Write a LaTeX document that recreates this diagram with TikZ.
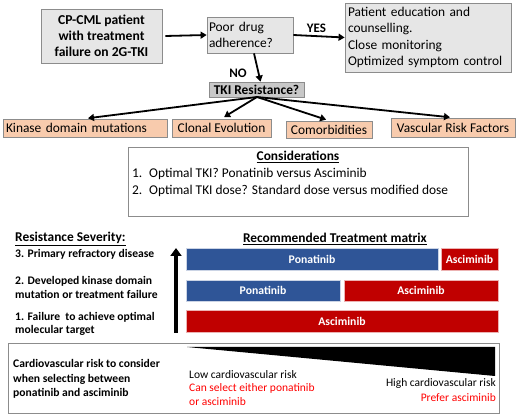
\documentclass[tikz,border=0pt]{standalone}
\usepackage{fontspec}
\setmainfont{Carlito}
\usetikzlibrary{arrows.meta}
\definecolor{boxgray}{HTML}{E6E6E6}
\definecolor{tkigray}{HTML}{C8C8C8}
\definecolor{edgegray}{HTML}{8C8C8C}
\definecolor{peach}{HTML}{F8CBAD}
\definecolor{barblue}{HTML}{2F5597}
\definecolor{barred}{HTML}{C00000}
\definecolor{txtred}{HTML}{FF0000}
\begin{document}
\begin{tikzpicture}[x=1pt,y=-1pt,
  every node/.style={font=\fontsize{13.4}{16.5}\selectfont, inner sep=0pt},
  graybox/.style={draw=edgegray, fill=boxgray, line width=0.8pt},
  tkibox/.style={draw=edgegray, fill=tkigray, line width=0.8pt, font=\fontsize{13.4}{16.5}\selectfont\bfseries},
  peachbox/.style={draw=edgegray, fill=peach, line width=0.8pt},
  plainbox/.style={draw=edgegray, fill=white, line width=0.8pt},
  flow/.style={line width=1.8pt, -{Triangle[length=6pt,width=7pt]}},
  bar/.style={draw=white!75!barblue, line width=0.6pt, text=white, font=\fontsize{11.7}{14}\selectfont\bfseries},
  bluebar/.style={bar, fill=barblue},
  redbar/.style={bar, fill=barred, draw=white!70!barred},
  sevlbl/.style={font=\fontsize{11.6}{13.6}\selectfont\bfseries, align=left},
  cvlbl/.style={font=\fontsize{11.6}{14.5}\selectfont\bfseries, align=left},
  small/.style={font=\fontsize{11.5}{14}\selectfont},
  yesno/.style={font=\fontsize{13}{14}\selectfont\bfseries}
]
\useasboundingbox (0,0) rectangle (520,414);

% top flow
\node[graybox, minimum width=121pt, minimum height=54pt, align=center, font=\fontsize{13.6}{16}\selectfont\bfseries] (pat) at (101.5,36)
  {CP-CML patient\\with treatment\\failure on 2G-TKI};
\node[graybox, minimum width=86pt, minimum height=36pt, text width=82pt, inner xsep=2pt, align=left] (adh) at (250,35)
  {Poor drug\\adherence?};
\node[graybox, minimum width=166pt, minimum height=69pt, text width=160pt, inner xsep=3pt, align=left] (edu) at (428,37.5)
  {Patient education and\\counselling.\\Close monitoring\\Optimized symptom control};
\node[tkibox, minimum width=95pt, minimum height=15pt] (tki) at (256.5,89.5) {TKI Resistance?};

\draw[flow] (pat.east) ++(3,0) coordinate (p1) (p1) -- (adh.west);
\draw[flow] (adh.east) -- node[above=3pt, pos=0.45, yesno] {YES} (edu.west);
\draw[flow] ([xshift=4pt]adh.south) -- node[left=11pt, pos=0.72, yesno] {NO} ([xshift=4pt]tki.north);

% resistance causes
\node[peachbox, minimum width=164pt, minimum height=18pt, text width=158pt, align=left] (kdm) at (85,128) {Kinase domain mutations};
\node[peachbox, minimum width=99pt, minimum height=18pt] (clo) at (221.5,128) {Clonal Evolution};
\node[peachbox, minimum width=86pt, minimum height=17pt] (com) at (329,129.5) {Comorbidities};
\node[peachbox, minimum width=124pt, minimum height=19pt] (vas) at (453,127.5) {Vascular Risk Factors};
\coordinate (src) at (257,97);
\foreach \t in {kdm,clo,com,vas}
  \draw[flow, shorten >=3pt] (src) -- (\t.north);

% considerations
\node[plainbox, minimum width=340pt, minimum height=69pt] (cons) at (298,181.5) {};
\node[font=\fontsize{13.4}{16.5}\selectfont\bfseries] (constitle) at (298,157) {\underline{Considerations}};
\node[anchor=west] (c1) at (132,174) {\makebox[17pt][l]{1.}Optimal TKI? Ponatinib versus Asciminib};
\node[anchor=west] (c2) at (132,190.5) {\makebox[17pt][l]{2.}Optimal TKI dose? Standard dose versus modified dose};

% resistance severity
\node[anchor=west, font=\fontsize{13.4}{16}\selectfont\bfseries] (rs) at (15,239) {\underline{Resistance Severity:}};
\node[anchor=west, sevlbl] (s3) at (15,254) {3. Primary refractory disease};
\node[anchor=west, sevlbl] (s2) at (15,287.5) {2. Developed kinase domain\\mutation or treatment failure};
\node[anchor=west, sevlbl] (s1) at (15,324) {1. Failure\ \ to achieve optimal\\molecular target};

\coordinate (ub) at (176,333);
\coordinate (ut) at (176,248);
\draw[line width=4pt, -{Triangle[length=8pt,width=11pt]}] (ub) -- (ut);

\node[font=\fontsize{13.4}{16}\selectfont\bfseries] (rtm) at (335,239) {\underline{Recommended Treatment matrix}};
\node[bluebar, minimum width=252pt, minimum height=22pt] (b3p) at (312,259) {Ponatinib};
\node[redbar, minimum width=57pt, minimum height=22pt] (b3a) at (469.5,259) {Asciminib};
\node[bluebar, minimum width=154pt, minimum height=21pt] (b2p) at (263,290.5) {Ponatinib};
\node[redbar, minimum width=154pt, minimum height=21pt] (b2a) at (421,290.5) {Asciminib};
\node[redbar, minimum width=312pt, minimum height=22pt] (b1a) at (342,321) {Asciminib};

% cardiovascular box
\node[draw=edgegray, line width=1pt, minimum width=491pt, minimum height=69pt] (cv) at (253.5,378.5) {};
\fill (187,347) -- (495,347) -- (495,376) -- cycle;
\node[anchor=west, cvlbl] (cvt) at (13,379) {Cardiovascular risk to consider\\when selecting between\\ponatinib and asciminib};
\node[anchor=west, small] (low) at (189,374.5) {Low cardiovascular risk};
\node[anchor=west, small, text=txtred] (lowr) at (189,388.5) {Can select either ponatinib};
\node[anchor=west, small, text=txtred] (lowr2) at (189,402) {or asciminib};
\node[anchor=east, small] (high) at (496,383) {High cardiovascular risk};
\node[anchor=east, small, text=txtred] (highr) at (496,398) {Prefer asciminib};
\end{tikzpicture}
\end{document}
